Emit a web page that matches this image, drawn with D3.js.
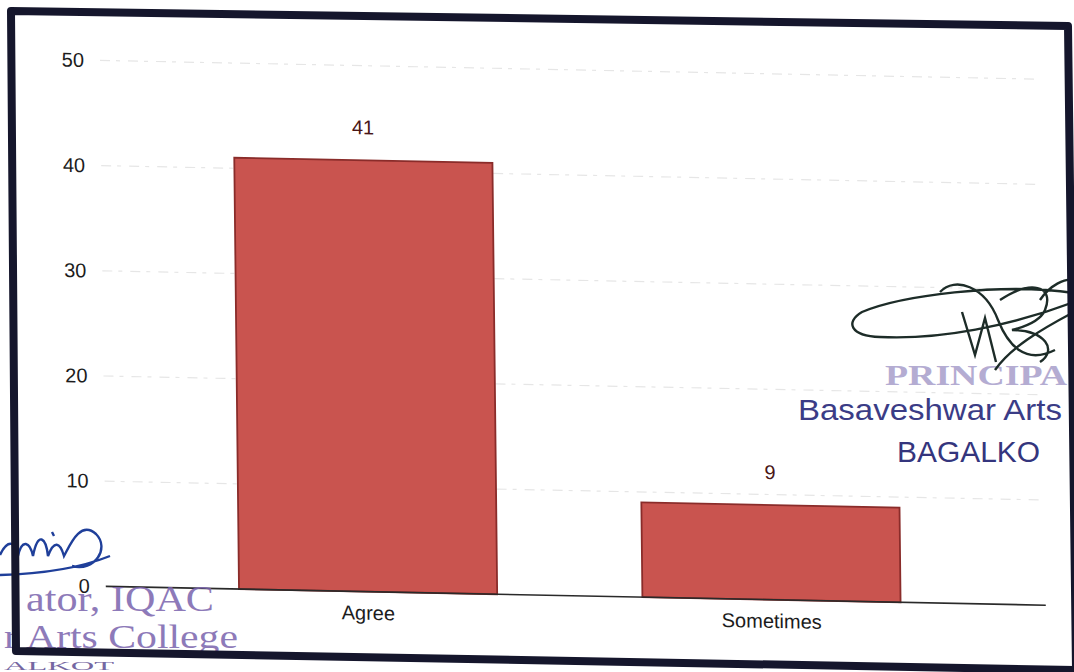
<!DOCTYPE html>
<html>
<head>
<meta charset="utf-8">
<script src="https://cdn.jsdelivr.net/npm/d3@7"></script>
<style>
  body { margin: 0; background: #fff; }
  svg { display: block; font-family: "Liberation Sans", Arial, sans-serif; }
</style>
</head>
<body>
<div id="chart"></div>
<script>
// chart data
var categories = ["Agree", "Sometimes"];
var counts = [41, 9];
var yTicks = [0, 10, 20, 30, 40, 50];

var W = 1074, H = 672;

var svg = d3.select("#chart").append("svg")
    .attr("width", W)
    .attr("height", H);

svg.append("rect").attr("width", W).attr("height", H).attr("fill", "#fff");

// the page was photographed a bit skewed, so the chart sits in a sheared group
var b = 0.02, c = 0.011, x0 = 80, y0 = 60;
var g = svg.append("g")
    .attr("transform", "matrix(1," + b + "," + c + ",1," + (-c * y0) + "," + (-b * x0) + ")");

var xScale = d3.scaleBand().domain(categories).range([88, 1040]).padding(0.36);
var yScale = d3.scaleLinear().domain([0, 50]).range([586, 60]);

// faint grid
g.selectAll("line.grid")
    .data(yTicks.slice(1))
    .enter().append("line")
    .attr("class", "grid")
    .attr("x1", 100).attr("x2", 1040)
    .attr("y1", function(d){ return yScale(d); })
    .attr("y2", function(d){ return yScale(d); })
    .attr("stroke", "#e6e6e6")
    .attr("stroke-width", 1.2)
    .attr("stroke-dasharray", "10,6,4,8");

// y axis labels
var gY = g.append("g")
    .attr("transform", "translate(84,0)")
    .call(d3.axisLeft(yScale).tickValues(yTicks).tickSize(0).tickPadding(0));
gY.select(".domain").remove();
gY.selectAll("text").attr("font-size", 20).attr("fill", "#1c1c1c")
    .attr("font-family", "Liberation Sans, Arial, sans-serif");

// bars
g.selectAll("rect.bar")
    .data(counts)
    .enter().append("rect")
    .attr("class", "bar")
    .attr("x", function(d, i){ return xScale(categories[i]); })
    .attr("y", function(d){ return yScale(d); })
    .attr("width", xScale.bandwidth())
    .attr("height", function(d){ return yScale(0) - yScale(d); })
    .attr("fill", "#c9544f")
    .attr("stroke", "#8a2c2a")
    .attr("stroke-width", 1.8);

// value labels
g.selectAll("text.val")
    .data(counts)
    .enter().append("text")
    .attr("class", "val")
    .attr("x", function(d, i){ return xScale(categories[i]) + xScale.bandwidth() / 2; })
    .attr("y", function(d){ return yScale(d) - 33; })
    .attr("dy", "0.35em")
    .attr("text-anchor", "middle")
    .attr("font-size", 20)
    .attr("fill", "#4a1616")
    .text(function(d){ return d; });

// baseline
g.append("line")
    .attr("x1", 100).attr("x2", 1040)
    .attr("y1", yScale(0)).attr("y2", yScale(0))
    .attr("stroke", "#2a2a2a")
    .attr("stroke-width", 1.6);

// category labels
var gX = g.append("g")
    .attr("transform", "translate(0," + yScale(0) + ")")
    .call(d3.axisBottom(xScale).tickSize(0).tickPadding(14));
gX.select(".domain").remove();
gX.selectAll("text").attr("font-size", 20).attr("fill", "#1c1c1c")
    .attr("font-family", "Liberation Sans, Arial, sans-serif");

// stamps and signatures on the printed page
var stamp = svg.append("g");
stamp.append("text").attr("x", 885).attr("y", 385).attr("font-size", 30)
    .attr("font-family", "Liberation Serif, serif").attr("font-weight", "bold")
    .attr("textLength", 182).attr("lengthAdjust", "spacingAndGlyphs")
    .attr("fill", "#a298c8").attr("opacity", 0.8).text("PRINCIPA");
stamp.append("text").attr("x", 798).attr("y", 420).attr("font-size", 30)
    .attr("textLength", 264).attr("lengthAdjust", "spacingAndGlyphs")
    .attr("fill", "#3b3c86").text("Basaveshwar Arts");
stamp.append("text").attr("x", 897).attr("y", 462).attr("font-size", 30)
    .attr("textLength", 143).attr("lengthAdjust", "spacingAndGlyphs")
    .attr("fill", "#34357d").text("BAGALKO");

stamp.append("text").attr("x", 26).attr("y", 611).attr("font-size", 36)
    .attr("font-family", "Liberation Serif, serif")
    .attr("textLength", 188).attr("lengthAdjust", "spacingAndGlyphs")
    .attr("fill", "#7a63ad").attr("opacity", 0.85).text("ator, IQAC");
stamp.append("text").attr("x", 4).attr("y", 648).attr("font-size", 34)
    .attr("font-family", "Liberation Serif, serif")
    .attr("textLength", 234).attr("lengthAdjust", "spacingAndGlyphs")
    .attr("fill", "#7a63ad").attr("opacity", 0.85).text("r Arts College");
stamp.append("text").attr("x", 4).attr("y", 670).attr("font-size", 13)
    .attr("font-family", "Liberation Serif, serif")
    .attr("textLength", 110).attr("lengthAdjust", "spacingAndGlyphs")
    .attr("fill", "#5e4d92").attr("opacity", 0.85).text("ALKOT");

stamp.append("path")
    .attr("d", "M0,555 C8,538 16,542 18,556 C22,538 30,542 33,556 C38,530 46,538 48,556 C54,540 60,542 64,556 C70,545 80,520 96,534 C110,548 95,572 72,566 M0,575 C40,574 80,568 110,556 M52,532 L54,536")
    .attr("fill", "none").attr("stroke", "#1f3f9a").attr("stroke-width", 2.4);

stamp.append("path")
    .attr("d", "M1074,293 C1000,282 900,296 862,312 C845,322 850,336 880,337 C940,340 1010,326 1074,302 M940,292 C955,276 985,286 998,320 C1008,345 1025,365 1055,350 M1074,312 C1040,330 1010,348 995,370 M962,312 L975,355 L985,318 L996,362 M1000,300 C1030,280 1055,285 1045,310 C1040,322 1020,328 1012,330 C1045,330 1058,350 1040,362 M1040,300 C1050,285 1065,278 1074,280")
    .attr("fill", "none").attr("stroke", "#1d2c28").attr("stroke-width", 2.4);

// page frame
svg.append("path")
    .attr("d", "M11,11 L1068,26 L1076,670 L16,651 Z")
    .attr("fill", "none")
    .attr("stroke", "#15162c")
    .attr("stroke-width", 8)
    .attr("stroke-linejoin", "round");
</script>
</body>
</html>
